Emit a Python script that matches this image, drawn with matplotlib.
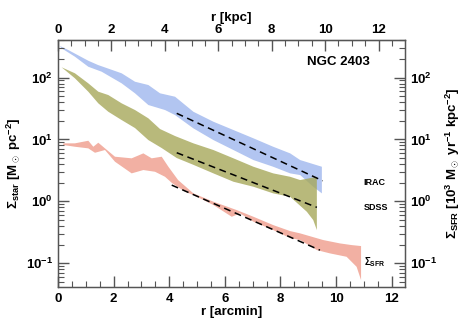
import numpy as np
import matplotlib
matplotlib.use("Agg")
import matplotlib.pyplot as plt
from matplotlib.ticker import FixedLocator, FixedFormatter, MultipleLocator, NullFormatter

plt.rcParams['font.family'] = ['Liberation Sans', 'DejaVu Sans']
plt.rcParams['font.weight'] = 'bold'
plt.rcParams['mathtext.fontset'] = 'custom'
plt.rcParams['mathtext.rm'] = 'Liberation Sans:bold'
plt.rcParams['mathtext.bf'] = 'Liberation Sans:bold'
plt.rcParams['mathtext.it'] = 'Liberation Sans:bold:italic'

# ---------------- data (r in arcmin, surface densities) ----------------
irac_r_hi = [0.07, 0.37, 1.09, 1.44, 2.29, 2.77, 3.25, 3.67, 4.21, 4.87, 5.59, 6.31, 7.03, 7.74, 8.35, 8.71, 9.49]
irac_hi_log = [2.509, 2.444, 2.271, 2.202, 2.068, 1.932, 1.879, 1.745, 1.690, 1.447, 1.286, 1.152, 1.018, 0.882, 0.775, 0.667, 0.559]
irac_r_lo = [0.13, 0.61, 1.09, 1.57, 2.29, 2.77, 3.25, 3.85, 4.21, 4.87, 5.59, 6.31, 7.03, 7.74, 8.35, 8.71, 9.18, 9.49]
irac_lo_log = [2.472, 2.336, 2.174, 2.094, 1.906, 1.745, 1.556, 1.475, 1.394, 1.179, 0.990, 0.829, 0.667, 0.559, 0.452, 0.425, 0.236, 0.129]

sdss_r_hi = [0.13, 0.61, 1.09, 1.45, 1.81, 2.29, 2.77, 3.25, 3.67, 4.21, 4.87, 5.59, 6.31, 7.03, 7.74, 8.35, 8.71, 9.31]
sdss_hi_log = [2.165, 2.068, 1.906, 1.771, 1.717, 1.583, 1.475, 1.341, 1.168, 1.055, 0.937, 0.829, 0.695, 0.559, 0.452, 0.397, 0.344, 0.397]
sdss_r_lo = [0.25, 0.61, 1.09, 1.45, 1.81, 2.29, 2.77, 3.25, 3.73, 4.27, 4.87, 5.59, 6.31, 7.03, 7.74, 8.35, 8.95, 9.18, 9.31]
sdss_lo_log = [2.121, 1.987, 1.771, 1.583, 1.447, 1.313, 1.184, 0.990, 0.861, 0.700, 0.590, 0.452, 0.317, 0.236, 0.129, 0.074, -0.168, -0.302, -0.464]

sfr_r_hi = [0.19, 0.61, 1.09, 1.27, 1.45, 1.69, 2.05, 2.65, 3.07, 3.37, 3.73, 3.97, 4.32, 4.87, 5.59, 6.43, 7.03, 7.74, 8.35, 8.71, 9.54, 10.14, 10.56, 10.90]
sfr_hi_log = [0.937, 0.937, 0.979, 0.882, 0.947, 0.856, 0.721, 0.695, 0.775, 0.695, 0.721, 0.559, 0.344, 0.129, -0.006, -0.141, -0.249, -0.383, -0.480, -0.517, -0.625, -0.679, -0.706, -0.722]
sfr_r_lo = [0.19, 0.61, 1.09, 1.33, 1.69, 2.05, 2.65, 3.07, 3.49, 3.85, 4.10, 4.57, 4.87, 5.59, 6.25, 6.55, 7.03, 7.74, 8.35, 8.71, 9.31, 9.78, 10.38, 10.74, 10.90]
sfr_lo_log = [0.910, 0.882, 0.856, 0.785, 0.829, 0.640, 0.452, 0.506, 0.478, 0.397, 0.296, 0.155, 0.102, -0.059, -0.249, -0.194, -0.329, -0.463, -0.593, -0.625, -0.787, -0.840, -0.895, -1.057, -1.272]

# exponential fits (dashed lines): (r_start, r_end), (value_start, value_end)
fit_irac_r = [4.27, 9.52]
fit_irac_v = [26.4, 2.15]
fit_sdss_r = [4.27, 9.31]
fit_sdss_v = [6.1, 0.80]
fit_sfr_r = [4.09, 9.42]
fit_sfr_v = [1.83, 0.163]

kpc_per_arcmin = 1.041

ytick_vals = [0.1, 1, 10, 100]
ytick_labels = [r'$10^{-1}$', r'$10^{0}$', r'$10^{1}$', r'$10^{2}$']
xticks_arcmin = [0, 2, 4, 6, 8, 10, 12]
xticks_kpc = [0, 2, 4, 6, 8, 10, 12]

# ---------------- figure ----------------
fig = plt.figure(figsize=(4.63, 3.27), dpi=100)
ax = fig.add_axes([58/463, 1-287/327, (405-58)/463, (287-40)/327])

def band(rh, hl, rl, ll, color, alpha=1.0):
    xs = list(rh) + list(rl)[::-1]
    ys = list(10**np.array(hl)) + list(10**np.array(ll))[::-1]
    ax.fill(xs, ys, color=color, alpha=alpha, lw=0)

band(irac_r_hi, irac_hi_log, irac_r_lo, irac_lo_log, '#b2c5f1')
band(sdss_r_hi, sdss_hi_log, sdss_r_lo, sdss_lo_log, '#a6a85a', alpha=0.8)
band(sfr_r_hi, sfr_hi_log, sfr_r_lo, sfr_lo_log, '#f2b0a3')

for rr, vv in [(fit_irac_r, fit_irac_v), (fit_sdss_r, fit_sdss_v), (fit_sfr_r, fit_sfr_v)]:
    ax.plot(rr, vv, color='black', lw=1.1, dashes=(4.5, 3))

ax.set_yscale('log')
ax.set_xlim(0, 12.48)
ax.set_ylim(10**-1.383, 10**2.606)

tick_kw = dict(direction='in', color='#555555')
ax.xaxis.set_major_locator(FixedLocator(xticks_arcmin))
ax.xaxis.set_minor_locator(MultipleLocator(0.5))
ax.yaxis.set_major_locator(FixedLocator(ytick_vals))
ax.yaxis.set_major_formatter(FixedFormatter(ytick_labels))
ax.yaxis.set_minor_formatter(NullFormatter())
ax.tick_params(which='major', length=8, width=1.0, labelsize=9.5, top=False, right=False, **tick_kw)
ax.tick_params(which='minor', length=4, width=0.8, top=False, right=False, **tick_kw)
ax.tick_params(axis='x', which='major', pad=4)

for s in ax.spines.values():
    s.set_color('#555555')
    s.set_linewidth(1.0)

ax.set_xlabel('r [arcmin]', fontsize=9.5, fontweight='bold', labelpad=1)
ax.set_ylabel(r'$\Sigma_{\rm star}$ [M$_\odot$ pc$^{-2}$]', fontsize=9.5, fontweight='bold', labelpad=2)

# right axis
ax2 = ax.twinx()
ax2.set_yscale('log')
ax2.set_ylim(ax.get_ylim())
ax2.yaxis.set_major_locator(FixedLocator(ytick_vals))
ax2.yaxis.set_major_formatter(FixedFormatter(ytick_labels))
ax2.yaxis.set_minor_formatter(NullFormatter())
ax2.tick_params(which='major', length=8, width=1.0, labelsize=9.5, **tick_kw)
ax2.tick_params(which='minor', length=4, width=0.8, **tick_kw)
for s in ax2.spines.values():
    s.set_color('#555555')
ax2.set_ylabel(r'$\Sigma_{\rm SFR}$ [10$^3$ M$_\odot$ yr$^{-1}$ kpc$^{-2}$]', fontsize=9.5,
               fontweight='bold', rotation=90, labelpad=5)

# top axis in kpc
sec = ax.secondary_xaxis('top', functions=(lambda x: x * kpc_per_arcmin, lambda x: x / kpc_per_arcmin))
sec.xaxis.set_major_locator(FixedLocator(xticks_kpc))
sec.xaxis.set_minor_locator(MultipleLocator(0.5))
sec.tick_params(which='major', length=8, width=1.0, labelsize=9.5, pad=3, **tick_kw)
sec.tick_params(which='minor', length=4, width=0.8, **tick_kw)
sec.set_xlabel('r [kpc]', fontsize=9.5, fontweight='bold', labelpad=2)
sec.spines['top'].set_color('#555555')

ax.text(0.90, 0.91, 'NGC 2403', transform=ax.transAxes, ha='right', va='center',
        fontsize=9.5, fontweight='bold')
ax.text(11.0, 10**(2 - (182 - 77.5) / 61.9), 'IRAC', fontsize=6.5, fontweight='bold', va='center')
ax.text(11.0, 10**(2 - (207 - 77.5) / 61.9), 'SDSS', fontsize=6.5, fontweight='bold', va='center')
ax.text(11.0, 10**(2 - (262 - 77.5) / 61.9), r'$\Sigma_{\rm SFR}$', fontsize=7, va='center')

fig.savefig('out.png', dpi=100, facecolor='white')
